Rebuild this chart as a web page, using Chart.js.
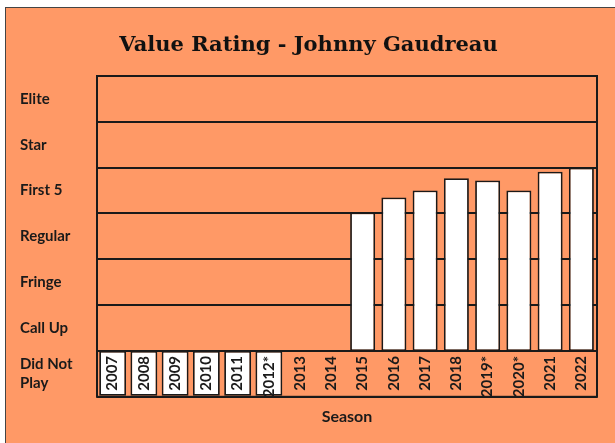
<!DOCTYPE html>
<html lang="en">
<head>
<meta charset="UTF-8">
<title>Value Rating - Johnny Gaudreau</title>
<script src="https://cdn.jsdelivr.net/npm/chart.js"></script>
<style>
    body {
        margin: 0;
        background: #ffffff;
        width: 615px;
        height: 443px;
        overflow: hidden;
        position: relative;
    }
    .frame {
        position: absolute;
        left: 5px;
        top: 7px;
        right: 0;
        bottom: 0;
        background: #ff9966;
        border-top: 1.5px solid #444;
        border-left: 1.5px solid #444;
    }
    canvas {
        position: absolute;
        left: 0;
        top: 0;
    }
</style>
</head>
<body>
<div class="frame"></div>
<canvas id="valueChart" width="615" height="443"></canvas>
<script>
    // Seasons along the x axis (* = shortened season)
    const seasons = ['2007', '2008', '2009', '2010', '2011', '2012*', '2013', '2014',
                     '2015', '2016', '2017', '2018', '2019*', '2020*', '2021', '2022'];
    // Rating bands, top to bottom
    const ratingLevels = ['Elite', 'Star', 'First 5', 'Regular', 'Fringe', 'Call Up', ['Did Not', 'Play']];
    // 1 = white "did not play" box drawn in the bottom band
    const didNotPlay = [1, 1, 1, 1, 1, 1, 0, 0, 0, 0, 0, 0, 0, 0, 0, 0];
    // Value rating on a 0-7 scale (band edges are whole numbers)
    const ratings = [null, null, null, null, null, null, null, null,
                     4.02, 4.35, 4.5, 4.77, 4.72, 4.5, 4.91, 5.0];
    const playBase = 1;   // top of the "Did Not Play" band
    const scaleMax = 7;

    const dnpData = didNotPlay.map(v => v ? [0, playBase] : null);
    const ratingData = ratings.map(v => v == null ? null : [playBase, v]);

    Chart.defaults.font.family = 'Lato';
    Chart.defaults.color = '#1a1a1a';

    // frame around the plot area
    const plotFrame = {
        id: 'plotFrame',
        afterDatasetsDraw(chart) {
            const {ctx, chartArea: a} = chart;
            ctx.save();
            ctx.strokeStyle = '#1a1a1a';
            ctx.lineWidth = 2;
            ctx.strokeRect(a.left, a.top, a.right - a.left, a.bottom - a.top);
            ctx.restore();
        }
    };

    // season labels sit inside the bottom band, rotated
    const seasonLabels = {
        id: 'seasonLabels',
        afterDraw(chart) {
            const {ctx, scales: {x, y}} = chart;
            const top = y.getPixelForValue(playBase) + 5;
            ctx.save();
            ctx.font = 'bold 15px Lato';
            ctx.fillStyle = '#1a1a1a';
            ctx.textAlign = 'right';
            ctx.textBaseline = 'middle';
            seasons.forEach((s, i) => {
                ctx.save();
                ctx.translate(x.getPixelForValue(i), top);
                ctx.rotate(-Math.PI / 2);
                ctx.fillText(s, 0, 0);
                ctx.restore();
            });
            ctx.restore();
        }
    };

    new Chart(document.getElementById('valueChart'), {
        type: 'bar',
        data: {
            labels: seasons,
            datasets: [{
                label: 'Did Not Play',
                data: dnpData,
                backgroundColor: '#ffffff',
                borderColor: '#1a1a1a',
                borderWidth: 1.8,
                borderSkipped: false,
                grouped: false,
                barPercentage: 0.86,
                categoryPercentage: 1
            }, {
                label: 'Value Rating',
                data: ratingData,
                backgroundColor: '#ffffff',
                borderColor: '#1a1a1a',
                borderWidth: 1.8,
                borderSkipped: false,
                grouped: false,
                barPercentage: 0.8,
                categoryPercentage: 1
            }]
        },
        options: {
            responsive: false,
            animation: false,
            layout: {
                padding: {left: 20, right: 18, top: 0, bottom: 17}
            },
            plugins: {
                legend: {display: false},
                tooltip: {enabled: false},
                title: {
                    display: true,
                    text: 'Value Rating - Johnny Gaudreau',
                    color: '#111',
                    font: {family: 'DejaVu Serif', size: 21, weight: 'bold', lineHeight: 1.2},
                    padding: {top: 33, bottom: 17.8}
                }
            },
            scales: {
                x: {
                    type: 'category',
                    offset: true,
                    grid: {display: false, drawTicks: false},
                    border: {display: false},
                    ticks: {display: false},
                    title: {
                        display: true,
                        text: 'Season',
                        color: '#1a1a1a',
                        font: {size: 16, weight: 'bold'},
                        padding: {top: 10, bottom: 0}
                    }
                },
                y: {
                    type: 'linear',
                    min: 0,
                    max: scaleMax,
                    ticks: {display: false, stepSize: 1},
                    grid: {color: '#1a1a1a', lineWidth: 2, drawTicks: false},
                    border: {display: false},
                    afterFit(scale) { scale.width = 0; }
                },
                levels: {
                    type: 'category',
                    axis: 'y',
                    position: 'left',
                    labels: ratingLevels,
                    offset: true,
                    grid: {display: false, drawTicks: false},
                    border: {display: false},
                    ticks: {
                        crossAlign: 'far',
                        padding: 0,
                        color: '#1a1a1a',
                        font: {size: 15, weight: 'bold', lineHeight: 1.3}
                    },
                    afterFit(scale) { scale.width = 77; }
                }
            }
        },
        plugins: [plotFrame, seasonLabels]
    });
</script>
</body>
</html>
